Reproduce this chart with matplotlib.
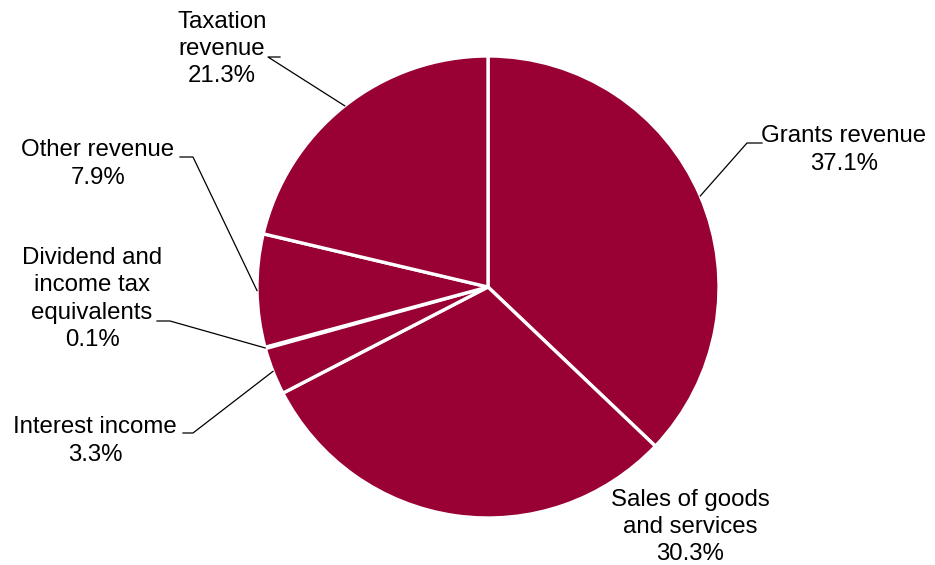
import numpy as np
import matplotlib.pyplot as plt

plt.rcParams['font.family'] = ['Liberation Sans', 'DejaVu Sans']

# data (share of total revenue, %)
labels = ['Grants revenue', 'Sales of goods\nand services', 'Interest income',
          'Dividend and\nincome tax\nequivalents', 'Other revenue', 'Taxation\nrevenue']
values = [37.1, 30.3, 3.3, 0.1, 7.9, 21.3]

# layout (pixels from top-left of the figure)
W, H = 935, 565
cx, cy, R = 488, 287, 231
label_pos = [(844, 150), (690, 527), (95, 441), (92, 299), (98, 164), (222, 49)]
# horizontal stub of each leader line: (x text side, x elbow, y); None = no leader
stubs = [(762, 747, 143), None, (183, 193, 433), (157, 170, 321),
         (180, 193, 157), (280, 268, 57)]

fig = plt.figure(figsize=(W / 100, H / 100), dpi=100)
ax = fig.add_axes([0, 0, 1, 1])

explode = [0.022, 0, 0, 0, 0, 0]
wedges, _ = ax.pie(values, startangle=90, counterclock=False, center=(cx, H - cy),
                   radius=R, colors=['#990033'] * len(values), explode=explode,
                   wedgeprops=dict(edgecolor='white', linewidth=2.4))
# the tiny dividend slice keeps thin edges so the sliver stays visible
wedges[3].set_linewidth(0.8)

# pie() sets its own limits, so fix the pixel frame afterwards
ax.set_xlim(0, W)
ax.set_ylim(0, H)
ax.set_aspect('equal')
ax.axis('off')

total = sum(values)
cum = 0
for i, v in enumerate(values):
    mid = 90 - (cum + v / 2) / total * 360
    cum += v
    ang = np.deg2rad(mid)
    px = cx + R * np.cos(ang)
    py = (H - cy) + R * np.sin(ang)
    lx, ly = label_pos[i]
    ax.text(lx, H - ly, f'{labels[i]}\n{v:.1f}%', ha='center', va='center',
            fontsize=17.3, color='black', linespacing=1.3)
    if stubs[i] is not None:
        x0, x1, sy = stubs[i]
        ax.plot([x0, x1, px], [H - sy, H - sy, py], color='black', lw=0.9)

fig.savefig('out.png', dpi=100, facecolor='white')
